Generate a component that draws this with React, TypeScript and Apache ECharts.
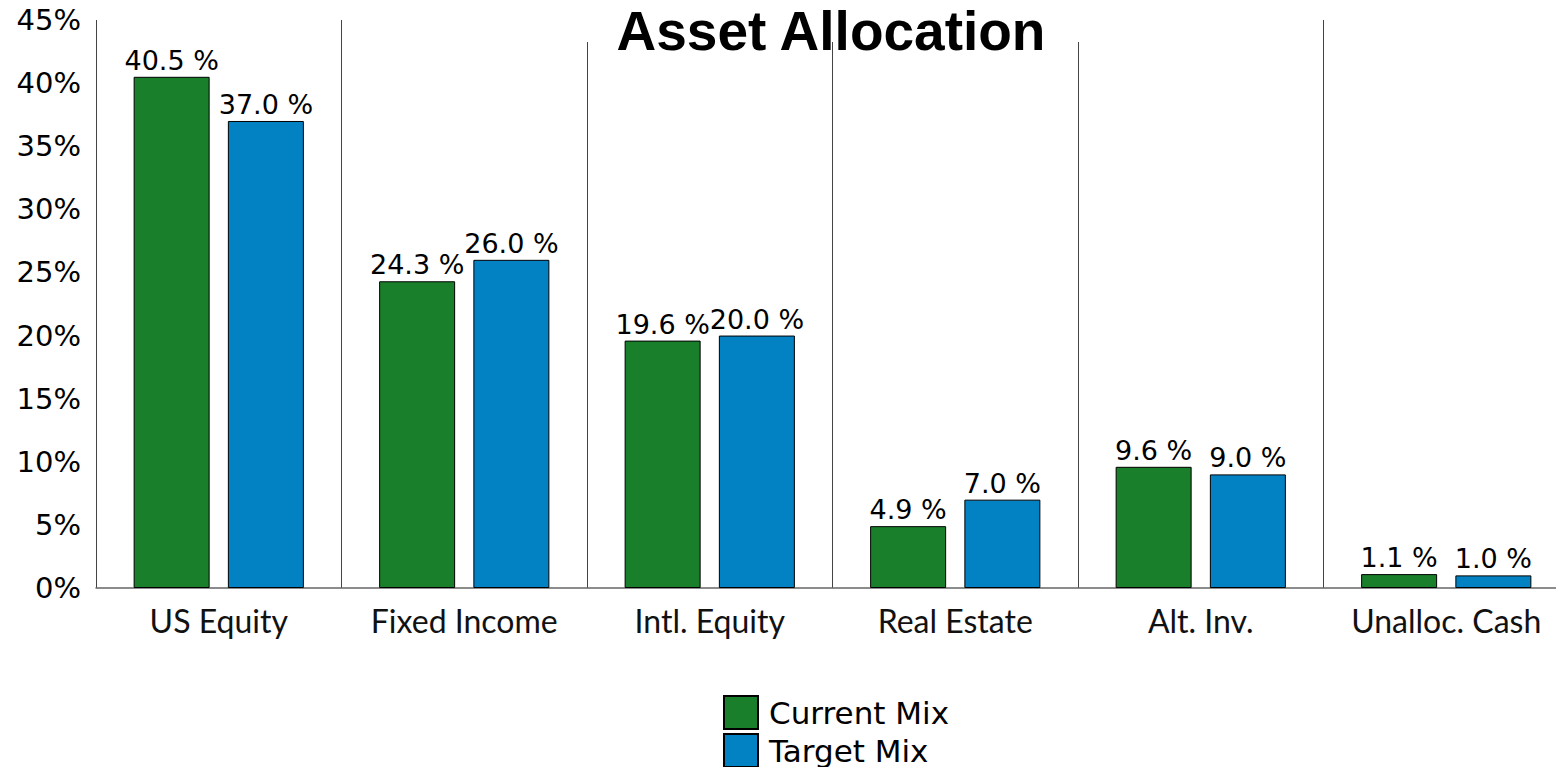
import React, { useEffect, useRef } from "react";
import * as echarts from "echarts";

const categories = ["US Equity", "Fixed Income", "Intl. Equity", "Real Estate", "Alt. Inv.", "Unalloc. Cash"];
const currentMix = [40.5, 24.3, 19.6, 4.9, 9.6, 1.1];
const targetMix = [37.0, 26.0, 20.0, 7.0, 9.0, 1.0];
const seriesNames = ["Current Mix", "Target Mix"];

const GREEN = "#1A7F2A";
const BLUE = "#0281C3";

export default function App() {
  const ref = useRef<HTMLDivElement>(null);
  useEffect(() => {
    if (!ref.current) return;
    const chart = echarts.init(ref.current, undefined, { renderer: "svg" });
    const labelCfg = {
      show: true,
      position: "top",
      distance: 3,
      fontFamily: "DejaVu Sans",
      fontSize: 27,
      color: "#000",
      formatter: (p: any) => Number(p.value).toFixed(1) + " %",
    };
    const legendBase = {
      orient: "vertical",
      left: 723,
      padding: 0,
      itemWidth: 34,
      itemHeight: 33,
      icon: "rect",
      textStyle: { fontFamily: "DejaVu Sans", fontSize: 31, lineHeight: 33, color: "#000", padding: [0, 0, 0, 6] },
    };
    chart.setOption({
      animation: false,
      backgroundColor: "#fff",
      title: {
        text: "Asset Allocation",
        left: 831,
        textAlign: "center",
        top: 0,
        padding: 0,
        z: 10,
        textStyle: { fontFamily: "Liberation Sans", fontWeight: "bold", fontSize: 55, lineHeight: 61, color: "#000" },
      },
      graphic: [
        { type: "rect", z: 5, shape: { x: 565, y: 0, width: 530, height: 42 }, style: { fill: "#fff" } },
      ],
      legend: [
        { ...legendBase, top: 695, data: [seriesNames[0]] },
        { ...legendBase, top: 733, data: [seriesNames[1]] },
      ],
      grid: { left: 96, top: 20, bottom: 179, right: 1 },
      xAxis: {
        type: "category",
        data: categories,
        axisLine: { show: true, lineStyle: { color: "#666", width: 1.5 } },
        axisTick: { show: false },
        splitLine: { show: true, interval: 0, lineStyle: { color: "#444", width: 1 } },
        axisLabel: { interval: 0, fontFamily: "Lato", fontSize: 32, color: "#111", margin: 16 },
      },
      yAxis: {
        type: "value",
        min: 0,
        max: 45,
        interval: 5,
        axisLine: { show: false },
        axisTick: { show: false },
        splitLine: { show: false },
        axisLabel: { formatter: "{value}%", fontFamily: "DejaVu Sans", fontSize: 29, color: "#000", margin: 15 },
      },
      series: [
        {
          name: seriesNames[0],
          type: "bar",
          data: currentMix,
          barWidth: 76,
          barGap: "24%",
          itemStyle: { color: GREEN, borderColor: "#000", borderWidth: 1 },
          label: labelCfg,
        },
        {
          name: seriesNames[1],
          type: "bar",
          data: targetMix,
          barWidth: 76,
          itemStyle: { color: BLUE, borderColor: "#000", borderWidth: 1 },
          label: labelCfg,
        },
      ],
    });
    return () => chart.dispose();
  }, []);
  return (
    <div style={{ width: 1556, height: 767, position: "absolute", left: 0, top: 0, overflow: "hidden" }}>
      <div ref={ref} style={{ width: 1570, height: 767 }} />
    </div>
  );
}
